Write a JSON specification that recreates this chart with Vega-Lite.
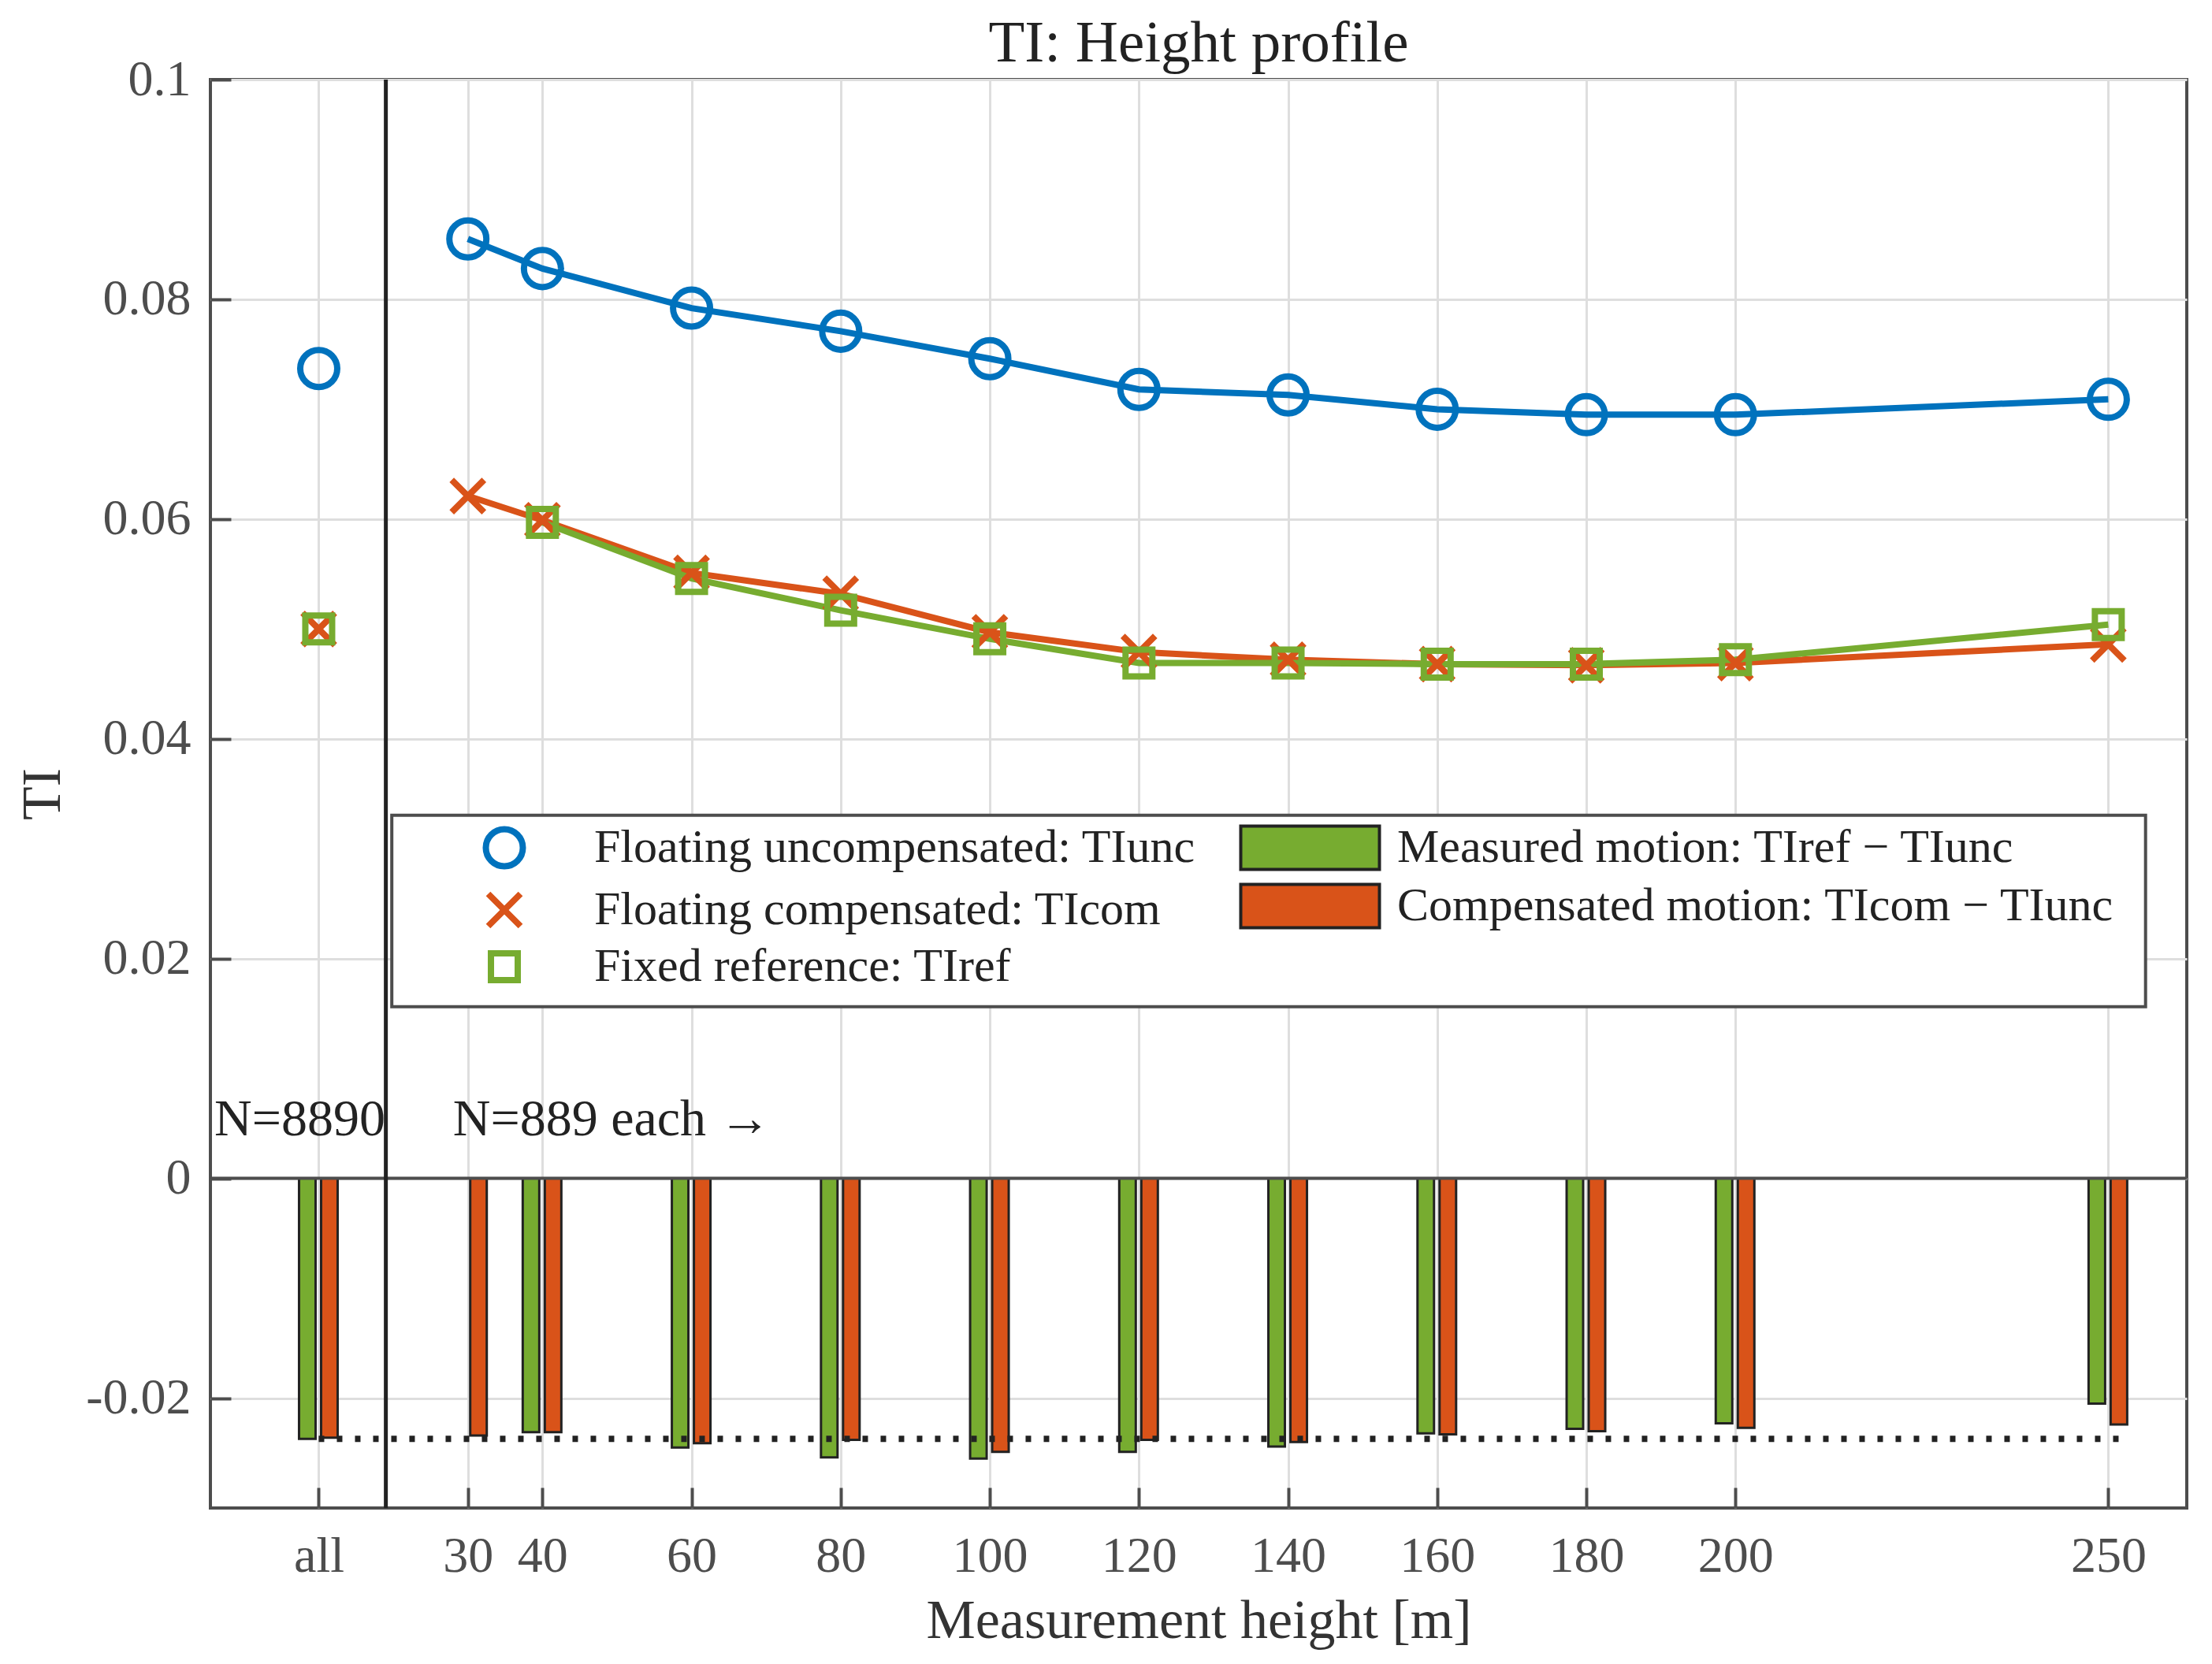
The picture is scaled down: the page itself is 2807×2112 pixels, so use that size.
{
  "$schema": "https://vega.github.io/schema/vega-lite/v6.json",
  "autosize": {"type": "none"},
  "padding": {"left": 267, "top": 101, "right": 32, "bottom": 198},
  "width": 2508,
  "height": 1813,
  "background": "white",
  "data": {"values": [{}]},
  "datasets": {
    "lines": [
      {"h": 10, "s": "Floating uncompensated: TIunc", "v": 0.0737},
      {"h": 30, "s": "Floating uncompensated: TIunc", "v": 0.0855},
      {"h": 40, "s": "Floating uncompensated: TIunc", "v": 0.0828},
      {"h": 60, "s": "Floating uncompensated: TIunc", "v": 0.0792},
      {"h": 80, "s": "Floating uncompensated: TIunc", "v": 0.0771},
      {"h": 100, "s": "Floating uncompensated: TIunc", "v": 0.0746},
      {"h": 120, "s": "Floating uncompensated: TIunc", "v": 0.0718},
      {"h": 140, "s": "Floating uncompensated: TIunc", "v": 0.0713},
      {"h": 160, "s": "Floating uncompensated: TIunc", "v": 0.0700},
      {"h": 180, "s": "Floating uncompensated: TIunc", "v": 0.0695},
      {"h": 200, "s": "Floating uncompensated: TIunc", "v": 0.0695},
      {"h": 250, "s": "Floating uncompensated: TIunc", "v": 0.0709},
      {"h": 10, "s": "Floating compensated: TIcom", "v": 0.0500},
      {"h": 30, "s": "Floating compensated: TIcom", "v": 0.0621},
      {"h": 40, "s": "Floating compensated: TIcom", "v": 0.0599},
      {"h": 60, "s": "Floating compensated: TIcom", "v": 0.0551},
      {"h": 80, "s": "Floating compensated: TIcom", "v": 0.0532},
      {"h": 100, "s": "Floating compensated: TIcom", "v": 0.0497},
      {"h": 120, "s": "Floating compensated: TIcom", "v": 0.0479},
      {"h": 140, "s": "Floating compensated: TIcom", "v": 0.0472},
      {"h": 160, "s": "Floating compensated: TIcom", "v": 0.0468},
      {"h": 180, "s": "Floating compensated: TIcom", "v": 0.0467},
      {"h": 200, "s": "Floating compensated: TIcom", "v": 0.0469},
      {"h": 250, "s": "Floating compensated: TIcom", "v": 0.0486},
      {"h": 10, "s": "Fixed reference: TIref", "v": 0.0500},
      {"h": 40, "s": "Fixed reference: TIref", "v": 0.0597},
      {"h": 60, "s": "Fixed reference: TIref", "v": 0.0546},
      {"h": 80, "s": "Fixed reference: TIref", "v": 0.0517},
      {"h": 100, "s": "Fixed reference: TIref", "v": 0.0491},
      {"h": 120, "s": "Fixed reference: TIref", "v": 0.0469},
      {"h": 140, "s": "Fixed reference: TIref", "v": 0.0469},
      {"h": 160, "s": "Fixed reference: TIref", "v": 0.0468},
      {"h": 180, "s": "Fixed reference: TIref", "v": 0.0468},
      {"h": 200, "s": "Fixed reference: TIref", "v": 0.0472},
      {"h": 250, "s": "Fixed reference: TIref", "v": 0.0504}
    ],
    "bars": [
      {"h": 10, "s": "Measured motion: TIref − TIunc", "v": -0.0237},
      {"h": 40, "s": "Measured motion: TIref − TIunc", "v": -0.0231},
      {"h": 60, "s": "Measured motion: TIref − TIunc", "v": -0.0245},
      {"h": 80, "s": "Measured motion: TIref − TIunc", "v": -0.0254},
      {"h": 100, "s": "Measured motion: TIref − TIunc", "v": -0.0255},
      {"h": 120, "s": "Measured motion: TIref − TIunc", "v": -0.0249},
      {"h": 140, "s": "Measured motion: TIref − TIunc", "v": -0.0244},
      {"h": 160, "s": "Measured motion: TIref − TIunc", "v": -0.0232},
      {"h": 180, "s": "Measured motion: TIref − TIunc", "v": -0.0228},
      {"h": 200, "s": "Measured motion: TIref − TIunc", "v": -0.0223},
      {"h": 250, "s": "Measured motion: TIref − TIunc", "v": -0.0205},
      {"h": 10, "s": "Compensated motion: TIcom − TIunc", "v": -0.0236},
      {"h": 30, "s": "Compensated motion: TIcom − TIunc", "v": -0.0234},
      {"h": 40, "s": "Compensated motion: TIcom − TIunc", "v": -0.0231},
      {"h": 60, "s": "Compensated motion: TIcom − TIunc", "v": -0.0241},
      {"h": 80, "s": "Compensated motion: TIcom − TIunc", "v": -0.0238},
      {"h": 100, "s": "Compensated motion: TIcom − TIunc", "v": -0.0249},
      {"h": 120, "s": "Compensated motion: TIcom − TIunc", "v": -0.0238},
      {"h": 140, "s": "Compensated motion: TIcom − TIunc", "v": -0.0240},
      {"h": 160, "s": "Compensated motion: TIcom − TIunc", "v": -0.0233},
      {"h": 180, "s": "Compensated motion: TIcom − TIunc", "v": -0.0230},
      {"h": 200, "s": "Compensated motion: TIcom − TIunc", "v": -0.0227},
      {"h": 250, "s": "Compensated motion: TIcom − TIunc", "v": -0.0224}
    ]
  },
  "layer": [
    {
      "data": {"name": "bars"},
      "transform": [{"filter": "indexof(datum.s, 'Measured') == 0"}],
      "mark": {"type": "bar", "width": 21, "xOffset": -14.5, "stroke": "#222222", "strokeWidth": 3},
      "encoding": {
        "x": {"field": "h", "type": "quantitative"},
        "y": {"field": "v", "type": "quantitative", "stack": null},
        "fill": {
          "field": "s",
          "type": "nominal",
          "scale": {
            "domain": ["Measured motion: TIref − TIunc", "Compensated motion: TIcom − TIunc"],
            "range": ["#77AC30", "#D95319"]
          },
          "legend": {
            "legendX": 1301,
            "legendY": 945,
            "symbolType": "M-3.745,-1.17H3.745V1.17H-3.745Z",
            "symbolSize": 2209,
            "symbolOffset": 64.5,
            "labelOffset": 80.5,
            "symbolStrokeColor": "#222222",
            "symbolStrokeWidth": 4,
            "symbolOpacity": 1
          }
        }
      }
    },
    {
      "data": {"name": "bars"},
      "transform": [{"filter": "indexof(datum.s, 'Compensated') == 0"}],
      "mark": {"type": "bar", "width": 21, "xOffset": 13.5, "stroke": "#222222", "strokeWidth": 3},
      "encoding": {
        "x": {"field": "h", "type": "quantitative"},
        "y": {"field": "v", "type": "quantitative", "stack": null},
        "fill": {"field": "s", "type": "nominal"}
      }
    },
    {
      "mark": {"type": "rule", "color": "#4d4d4d", "strokeWidth": 4},
      "encoding": {"y": {"datum": 0}}
    },
    {
      "mark": {"type": "rule", "color": "#222222", "strokeWidth": 5},
      "encoding": {"x": {"datum": 19}}
    },
    {
      "mark": {"type": "rule", "color": "#222222", "strokeWidth": 8, "strokeDash": [7, 16], "strokeCap": "butt"},
      "encoding": {"x": {"datum": 10}, "x2": {"datum": 251.5}, "y": {"datum": -0.0237}}
    },
    {
      "mark": {"type": "rect", "fill": "white", "stroke": "#4d4d4d", "strokeWidth": 4},
      "encoding": {"x": {"datum": 19.8}, "x2": {"datum": 255}, "y": {"datum": 0.03305}, "y2": {"datum": 0.01563}}
    },
    {
      "data": {"name": "lines"},
      "transform": [{"filter": "datum.h > 10"}],
      "mark": {"type": "line", "strokeWidth": 8},
      "encoding": {
        "x": {
          "field": "h",
          "type": "quantitative",
          "scale": {"domain": [-4, 260], "nice": false, "zero": false},
          "axis": {
            "values": [10, 30, 40, 60, 80, 100, 120, 140, 160, 180, 200, 250],
            "labelExpr": "datum.value == 10 ? 'all' : datum.label",
            "title": "Measurement height [m]",
            "labelPadding": 55,
            "labelBaseline": "top",
            "titlePadding": 16
          }
        },
        "y": {
          "field": "v",
          "type": "quantitative",
          "scale": {"domain": [-0.03, 0.1], "nice": false, "zero": false},
          "axis": {
            "values": [-0.02, 0, 0.02, 0.04, 0.06, 0.08, 0.1],
            "format": ".2~f",
            "labelExpr": "replace(datum.label, '−', '-')",
            "title": "TI",
            "labelPadding": 51,
            "titlePadding": 18
          }
        },
        "stroke": {
          "field": "s",
          "type": "nominal",
          "scale": {
            "domain": ["Floating uncompensated: TIunc", "Floating compensated: TIcom", "Fixed reference: TIref"],
            "range": ["#0072BD", "#D95319", "#77AC30"]
          }
        }
      }
    },
    {
      "data": {"name": "lines"},
      "mark": {"type": "point", "filled": false, "strokeWidth": 8, "opacity": 1},
      "encoding": {
        "x": {"field": "h", "type": "quantitative"},
        "y": {"field": "v", "type": "quantitative"},
        "stroke": {
          "field": "s",
          "type": "nominal",
          "legend": {
            "legendX": 275,
            "legendY": 945,
            "symbolSize": 1600,
            "symbolOffset": 68,
            "labelOffset": 84,
            "symbolStrokeWidth": 8,
            "symbolFillColor": "transparent"
          }
        },
        "shape": {
          "field": "s",
          "type": "nominal",
          "scale": {
            "domain": ["Floating uncompensated: TIunc", "Floating compensated: TIcom", "Fixed reference: TIref"],
            "range": ["circle", "M-1,-1L1,1M-1,1L1,-1", "square"]
          },
          "legend": {
            "legendX": 275,
            "legendY": 945,
            "symbolSize": 1600,
            "symbolOffset": 68,
            "labelOffset": 84,
            "symbolStrokeWidth": 8,
            "symbolFillColor": "transparent"
          }
        },
        "size": {
          "field": "s",
          "type": "nominal",
          "scale": {
            "domain": ["Floating uncompensated: TIunc", "Floating compensated: TIcom", "Fixed reference: TIref"],
            "range": [2209, 1156, 1225]
          },
          "legend": null
        }
      }
    },
    {
      "mark": {"type": "text", "text": "N=8890", "align": "left", "baseline": "alphabetic", "font": "Liberation Serif", "fontSize": 66, "color": "#222222"},
      "encoding": {"x": {"datum": -4}, "y": {"datum": 0.0039}}
    },
    {
      "mark": {"type": "text", "text": "N=889 each →", "align": "left", "baseline": "alphabetic", "font": "Liberation Serif", "fontSize": 66, "color": "#222222"},
      "encoding": {"x": {"datum": 28}, "y": {"datum": 0.0039}}
    },
    {
      "mark": {"type": "text", "text": "TI: Height profile", "align": "center", "baseline": "alphabetic", "font": "Liberation Serif", "fontSize": 75, "color": "#222222"},
      "encoding": {"x": {"datum": 128}, "y": {"datum": 0.10165}}
    }
  ],
  "config": {
    "view": {"stroke": "#4d4d4d", "strokeWidth": 4},
    "axis": {
      "labelFont": "Liberation Serif",
      "labelFontSize": 64,
      "labelColor": "#4d4d4d",
      "titleFont": "Liberation Serif",
      "titleFontSize": 70,
      "titleFontWeight": "normal",
      "titleColor": "#333333",
      "domain": false,
      "grid": true,
      "gridColor": "#dedede",
      "gridWidth": 3,
      "tickColor": "#4d4d4d",
      "tickWidth": 4,
      "tickSize": -26
    },
    "legend": {
      "orient": "none",
      "title": null,
      "padding": 0,
      "rowPadding": 2,
      "labelFont": "Liberation Serif",
      "labelFontSize": 60,
      "labelColor": "#222222",
      "labelLimit": 0
    }
  }
}
